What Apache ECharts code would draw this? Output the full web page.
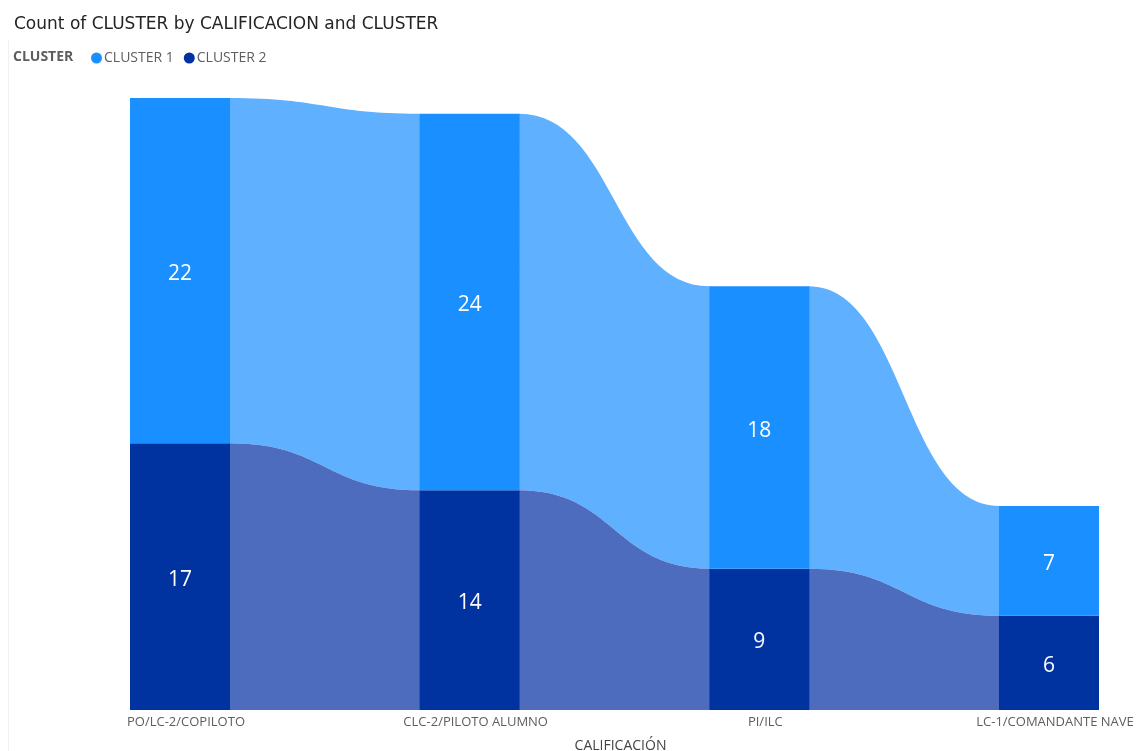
<!DOCTYPE html>
<html>
<head>
<meta charset="utf-8">
<title>Count of CLUSTER by CALIFICACION and CLUSTER</title>
<script src="https://cdn.jsdelivr.net/npm/echarts@6/dist/echarts.min.js"></script>
<style>
  html, body { margin: 0; padding: 0; background: #fff; }
  #chart { width: 1139px; height: 751px; }
</style>
</head>
<body>
<div id="chart"></div>
<script>
// Qualification categories along the ribbon
const categories = ['PO/LC-2/COPILOTO', 'CLC-2/PILOTO ALUMNO', 'PI/ILC', 'LC-1/COMANDANTE NAVE'];
// Counts per cluster for each qualification
const cluster1 = [22, 24, 18, 7];
const cluster2 = [17, 14, 9, 6];
const seriesNames = ['CLUSTER 1', 'CLUSTER 2'];

const barColors = ['#1A8FFF', '#0032A0'];
const ribbonColors = ['#5FB1FF', '#4E6CBE'];
const barWidth = 100;
const font = '"Open Sans", "Noto Sans", sans-serif';

const chart = echarts.init(document.getElementById('chart'));

// Ribbon between category j and j+1: cluster 2 sits at the bottom, cluster 1 above it
function renderRibbon(params, api) {
  const j = api.value(0);
  const half = barWidth / 2;
  const stacks = [
    { lo: [cluster2[j], cluster2[j + 1]], hi: [cluster2[j] + cluster1[j], cluster2[j + 1] + cluster1[j + 1]], color: ribbonColors[0] },
    { lo: [0, 0], hi: [cluster2[j], cluster2[j + 1]], color: ribbonColors[1] }
  ];
  const children = stacks.map(s => {
    const aTop = api.coord([j, s.hi[0]]);
    const aBot = api.coord([j, s.lo[0]]);
    const bTop = api.coord([j + 1, s.hi[1]]);
    const bBot = api.coord([j + 1, s.lo[1]]);
    const x0 = aTop[0] + half - 0.5;
    const x1 = bTop[0] - half + 0.5;
    const xm = (x0 + x1) / 2;
    const d = [
      'M', x0, aTop[1],
      'C', xm, aTop[1], xm, bTop[1], x1, bTop[1],
      'L', x1, bBot[1],
      'C', xm, bBot[1], xm, aBot[1], x0, aBot[1],
      'Z'
    ].join(' ');
    return { type: 'path', shape: { pathData: d }, style: { fill: s.color } };
  });
  return { type: 'group', children: children };
}

const barLabel = {
  show: true,
  position: 'inside',
  offset: [0, 3],
  color: '#ffffff',
  fontSize: 21,
  fontFamily: font
};

chart.setOption({
  animation: false,
  title: {
    text: 'Count of CLUSTER by CALIFICACION and CLUSTER',
    left: 9,
    top: 11,
    textStyle: { color: '#252423', fontSize: 17, fontWeight: 'normal', fontFamily: '"DejaVu Sans", sans-serif' }
  },
  legend: {
    data: seriesNames,
    left: 86,
    top: 46,
    icon: 'circle',
    itemWidth: 11,
    itemHeight: 11,
    itemGap: 10,
    textStyle: { color: '#605E5C', fontSize: 14, fontFamily: font, padding: [0, 0, 0, -3] }
  },
  graphic: [
    {
      type: 'text',
      left: 13,
      top: 50,
      style: { text: 'CLUSTER', fill: '#605E5C', font: 'bold 14px ' + font }
    },
    {
      type: 'rect',
      shape: { x: 8, y: 40, width: 1, height: 711 },
      style: { fill: '#F0F0F0' }
    }
  ],
  grid: { left: 180, right: 90, top: 98, bottom: 41, outerBoundsMode: 'none', containLabel: false },
  xAxis: {
    type: 'category',
    data: categories,
    boundaryGap: false,
    axisLine: { show: false },
    axisTick: { show: false },
    axisLabel: {
      color: '#605E5C',
      fontSize: 13,
      fontFamily: font,
      margin: 6,
      padding: [0, 0, 0, 12],
      interval: 0
    },
    name: 'CALIFICACIÓN',
    nameLocation: 'middle',
    nameGap: 29,
    nameTextStyle: { color: '#444444', fontSize: 14, fontFamily: font, padding: [0, 0, 0, 12] }
  },
  yAxis: {
    type: 'value',
    min: 0,
    max: 39,
    show: false
  },
  series: [
    {
      type: 'custom',
      name: 'ribbons',
      renderItem: renderRibbon,
      data: [[0], [1], [2]],
      encode: { x: 0 },
      z: 1,
      silent: true
    },
    {
      type: 'bar',
      name: seriesNames[1],
      stack: 'total',
      data: cluster2,
      barWidth: barWidth,
      itemStyle: { color: barColors[1] },
      label: barLabel,
      z: 3
    },
    {
      type: 'bar',
      name: seriesNames[0],
      stack: 'total',
      data: cluster1,
      barWidth: barWidth,
      itemStyle: { color: barColors[0] },
      label: barLabel,
      z: 3
    }
  ]
});
</script>
</body>
</html>
